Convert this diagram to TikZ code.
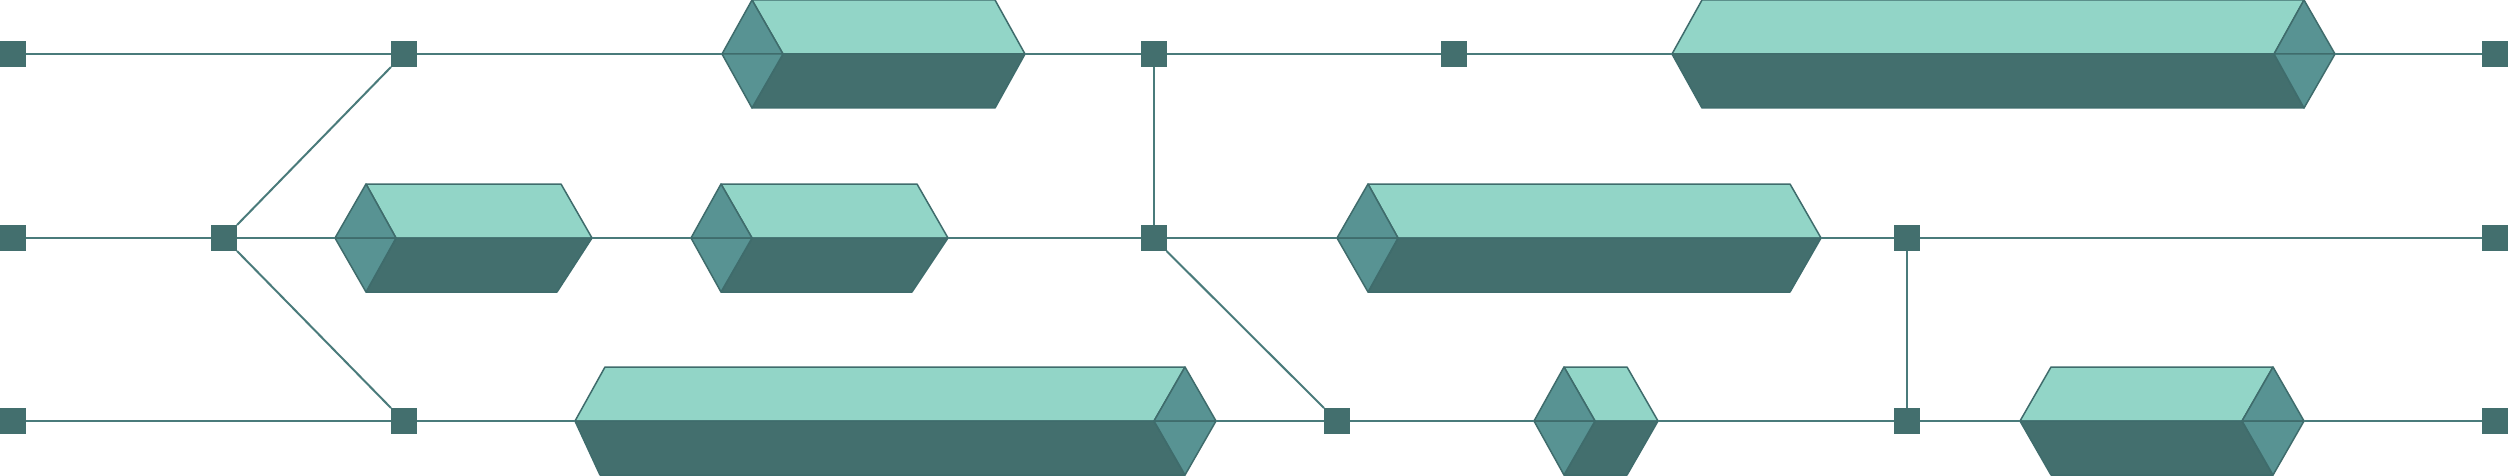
\documentclass[tikz,border=0pt]{standalone}
\definecolor{lightf}{HTML}{92D5C7}
\definecolor{midf}{HTML}{589393}
\definecolor{darkf}{HTML}{436F6E}
\definecolor{edgec}{HTML}{3F6C6C}
\definecolor{connc}{HTML}{4A7B7B}
\tikzset{
  sq/.style={rectangle, fill=darkf, minimum size=26pt, inner sep=0pt, outer sep=0pt},
  conn/.style={draw=connc, line width=2pt},
  face/.style={draw=edgec, line width=1.5pt, line join=round},
}
% left cap box: #1 name, #2 y, #3 xL, #4 xA, #5 xI, #6 xRT, #7 xR, #8 xRB
\newcommand\capLbox[8]{%
  \coordinate (#1-w) at (#3,#2);
  \coordinate (#1-e) at (#7,#2);
  \filldraw[face,fill=lightf] (#4,#2-54) -- (#6,#2-54) -- (#7,#2) -- (#5,#2) -- cycle;
  \filldraw[face,fill=darkf] (#5,#2) -- (#7,#2) -- (#8,#2+54) -- (#4,#2+54) -- cycle;
  \filldraw[face,fill=midf] (#3,#2) -- (#4,#2-54) -- (#5,#2) -- cycle;
  \filldraw[face,fill=midf] (#3,#2) -- (#5,#2) -- (#4,#2+54) -- cycle;
}
% right cap box: #1 name, #2 y, #3 xL, #4 xLT, #5 xLB, #6 xI, #7 xA, #8 xR
\newcommand\capRbox[8]{%
  \coordinate (#1-w) at (#3,#2);
  \coordinate (#1-e) at (#8,#2);
  \filldraw[face,fill=lightf] (#4,#2-54) -- (#7,#2-54) -- (#6,#2) -- (#3,#2) -- cycle;
  \filldraw[face,fill=darkf] (#3,#2) -- (#6,#2) -- (#7,#2+54) -- (#5,#2+54) -- cycle;
  \filldraw[face,fill=midf] (#6,#2) -- (#7,#2-54) -- (#8,#2) -- cycle;
  \filldraw[face,fill=midf] (#6,#2) -- (#8,#2) -- (#7,#2+54) -- cycle;
}
\begin{document}
\begin{tikzpicture}[x=1pt,y=-1pt]
\path[use as bounding box, fill=white] (0,0) rectangle (2508,476);

% squares
\node[sq] (S1a) at (13,54) {};
\node[sq] (S1b) at (404,54) {};
\node[sq] (S1c) at (1153.5,54) {};
\node[sq] (S1d) at (1454,54) {};
\node[sq] (S1e) at (2495,54) {};
\node[sq] (S2a) at (13,238) {};
\node[sq] (S2b) at (224,238) {};
\node[sq] (S2c) at (1153.5,238) {};
\node[sq] (S2d) at (1907,238) {};
\node[sq] (S2e) at (2495,238) {};
\node[sq] (S3a) at (13,421) {};
\node[sq] (S3b) at (404,421) {};
\node[sq] (S3c) at (1337,421) {};
\node[sq] (S3d) at (1907,421) {};
\node[sq] (S3e) at (2495,421) {};

% boxes
\capLbox{B1}{54}{722}{752}{783}{995}{1025}{995}
\capRbox{B2}{54}{1672}{1702}{1702}{2274}{2304}{2335}
\capLbox{B3}{238}{335}{366}{396}{561}{592}{557}
\capLbox{B4}{238}{691}{721}{752}{917}{948}{912}
\capLbox{B5}{238}{1337}{1368}{1398}{1790}{1821}{1790}
\capRbox{B6}{421}{575}{605}{600}{1154}{1185}{1216}
\capLbox{B7}{421}{1534}{1564}{1595}{1627}{1658}{1627}
\capRbox{B8}{421}{2020}{2051}{2051}{2242}{2273}{2304}

% connectors row 1
\draw[conn] (S1a) -- (S1b);
\draw[conn] (S1b) -- (B1-w);
\draw[conn] (B1-e) -- (S1c);
\draw[conn] (S1c) -- (S1d);
\draw[conn] (S1d) -- (B2-w);
\draw[conn] (B2-e) -- (S1e);
% row 2
\draw[conn] (S2a) -- (S2b);
\draw[conn] (S2b) -- (B3-w);
\draw[conn] (B3-e) -- (B4-w);
\draw[conn] (B4-e) -- (S2c);
\draw[conn] (S2c) -- (B5-w);
\draw[conn] (B5-e) -- (S2d);
\draw[conn] (S2d) -- (S2e);
% row 3
\draw[conn] (S3a) -- (S3b);
\draw[conn] (S3b) -- (B6-w);
\draw[conn] (B6-e) -- (S3c);
\draw[conn] (S3c) -- (B7-w);
\draw[conn] (B7-e) -- (S3d);
\draw[conn] (S3d) -- (B8-w);
\draw[conn] (B8-e) -- (S3e);
% diagonals and verticals
\draw[conn] (S2b.north east) -- (S1b.south west);
\draw[conn] (S2b.south east) -- (S3b.north west);
\draw[conn] (S2c.south east) -- (S3c.north west);
\draw[conn] (S1c) -- (S2c);
\draw[conn] (S2d) -- (S3d);
\end{tikzpicture}
\end{document}
